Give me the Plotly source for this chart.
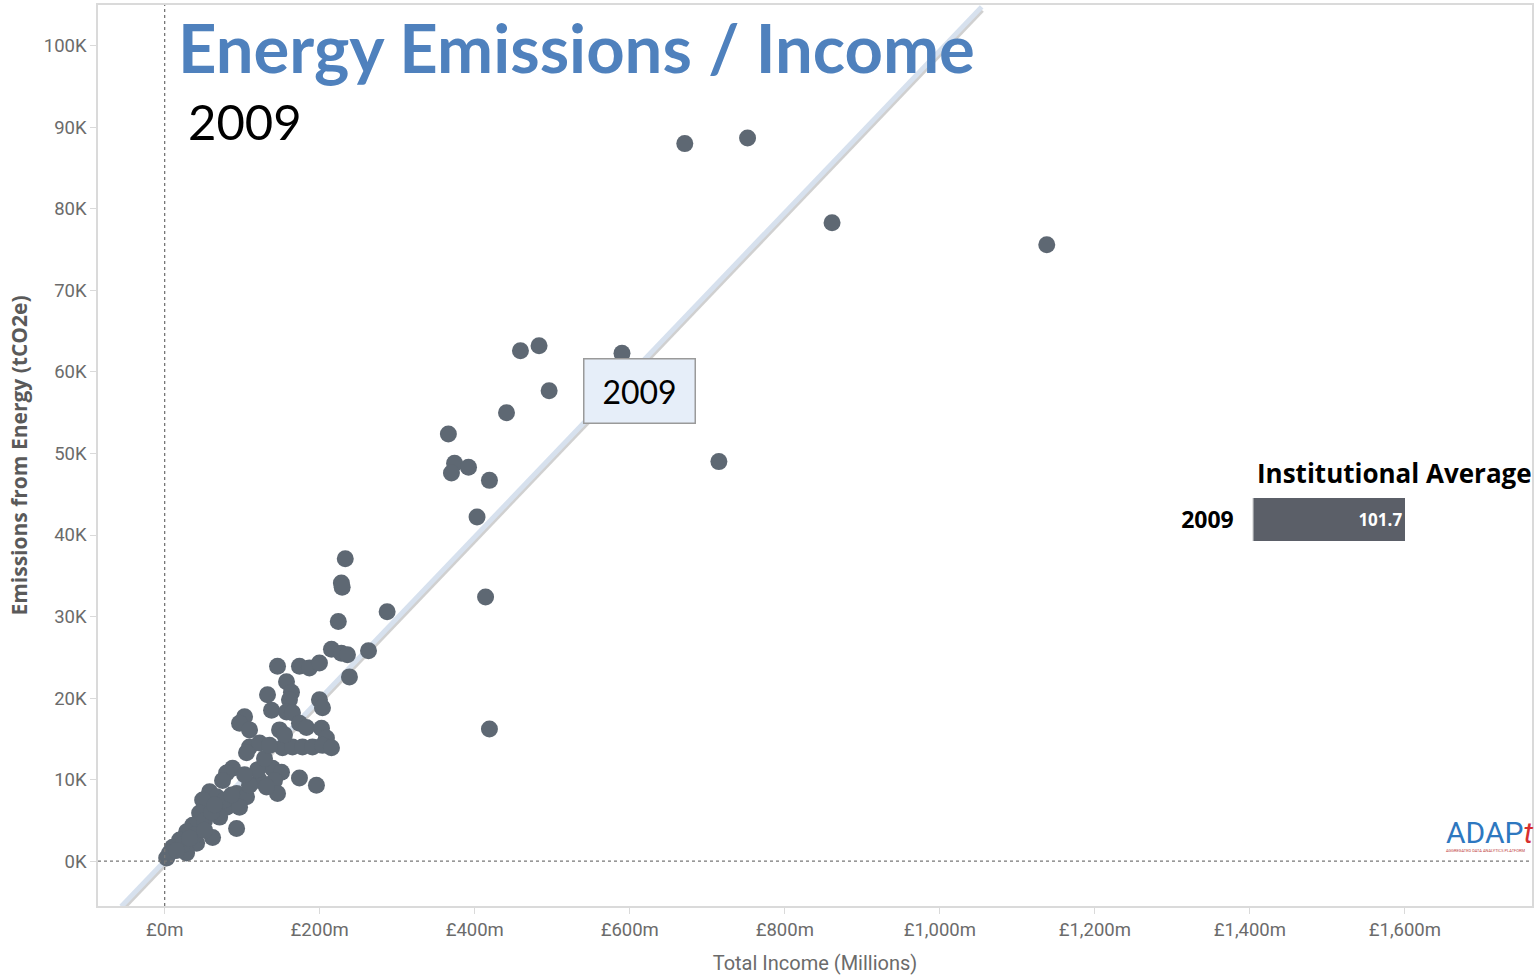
import plotly.graph_objects as go

# Total income (£ millions) and energy emissions (thousand tCO2e) per institution, 2009
income_m = [
    145.6, 173.9, 186.8, 199.7, 215.2, 228.0, 235.8, 238.4, 157.2, 163.6,
    132.7, 161.0, 137.9, 157.2, 164.9, 199.7, 203.6, 103.1, 96.6, 109.5,
    148.2, 173.9, 182.9, 202.3, 208.7, 109.5, 122.4, 105.6, 152.0, 164.9,
    177.8, 190.7, 203.6, 215.2, 87.6, 79.9, 74.7, 139.1, 150.7, 141.7,
    145.6, 173.9, 195.8, 122.4, 131.4, 58.0, 67.0, 49.0, 92.8, 105.6,
    79.9, 96.6, 45.1, 70.9, 92.8, 61.8, 36.1, 28.3, 19.3, 10.3,
    6.4, 2.6, 41.2, 28.3, 51.5, 60.6, 77.3, 86.3, 109.5, 119.8,
    128.8, 38.7, 51.5, 23.2, 15.5, 32.2, 64.4, 103.1, 135.3, 154.6,
    671.0, 752.0, 861.0, 1138.0, 715.0, 590.0, 483.0, 459.0, 496.0, 441.0,
    366.0, 374.0, 370.0, 392.0, 419.0, 403.0, 414.0, 419.0, 287.0, 233.0,
    228.0, 229.0, 224.0, 263.0,
]
emissions_k = [
    23.9, 23.9, 23.7, 24.3, 26.0, 25.5, 25.3, 22.6, 22.0, 20.7,
    20.4, 19.8, 18.5, 18.3, 18.2, 19.8, 18.8, 17.7, 16.9, 16.1,
    16.1, 16.9, 16.4, 16.3, 15.1, 14.0, 14.5, 13.3, 13.9, 14.0,
    14.0, 14.0, 14.2, 13.9, 11.4, 10.8, 9.9, 11.4, 10.9, 9.9,
    8.3, 10.2, 9.3, 9.9, 9.1, 8.5, 7.9, 7.5, 8.3, 7.9,
    6.6, 6.6, 5.9, 5.4, 4.0, 2.9, 4.4, 3.6, 2.6, 1.7,
    1.0, 0.4, 2.2, 1.0, 5.0, 6.0, 7.5, 8.1, 9.3, 11.2,
    12.6, 3.2, 3.8, 2.0, 1.3, 2.8, 6.9, 10.6, 14.2, 15.5,
    88.0, 88.7, 78.3, 75.6, 49.0, 62.3, 63.2, 62.6, 57.7, 55.0,
    52.4, 48.8, 47.6, 48.3, 46.7, 42.2, 32.4, 16.2, 30.6, 37.1,
    34.1, 33.6, 29.4, 25.8,
]

# Linear trend (thousand tCO2e per £m) and its drawn extent
trend_slope = 0.0994
trend_x = [-56, 1054]
trend_y = [trend_slope * v for v in trend_x]

# Institutional average (tCO2e per £m)
avg_year = ["2009"]
avg_value = [101.7]

x_ticks = [0, 200, 400, 600, 800, 1000, 1200, 1400, 1600]
y_ticks = [0, 10, 20, 30, 40, 50, 60, 70, 80, 90, 100]

TICK_FONT = dict(family="Roboto, Lato, sans-serif", size=18.5, color="#6b6b6b")
DOT = "#5e6873"

fig = go.Figure()

# soft shadow under the trend line
fig.add_trace(go.Scatter(
    x=trend_x, y=[v - 0.35 for v in trend_y], mode="lines",
    line=dict(color="rgba(120,120,120,0.35)", width=6),
    hoverinfo="skip", showlegend=False,
))
fig.add_trace(go.Scatter(
    x=trend_x, y=trend_y, mode="lines",
    line=dict(color="#d7e1ee", width=5),
    hoverinfo="skip", showlegend=False,
))
fig.add_trace(go.Scatter(
    x=income_m, y=emissions_k, mode="markers",
    marker=dict(size=17, color=DOT, line=dict(width=0)),
    showlegend=False,
))

# institutional average bar
fig.add_trace(go.Bar(
    x=avg_value, y=avg_year, orientation="h",
    xaxis="x2", yaxis="y2", width=1.0,
    marker=dict(color="#5b5f68", line=dict(width=0)),
    text=[f"<b>{v}</b>" for v in avg_value], textposition="inside",
    insidetextanchor="end",
    textfont=dict(family="Open Sans, sans-serif", size=17, color="white"),
    showlegend=False,
))

fig.update_layout(
    width=1534, height=975,
    margin=dict(l=98, r=0, t=5, b=69),
    paper_bgcolor="white", plot_bgcolor="white",
    xaxis=dict(
        range=[-86, 1764], tickvals=x_ticks,
        ticktext=[f"£{v:,}m" for v in x_ticks],
        showgrid=False, zeroline=False,
        showline=True, linecolor="#dadada", linewidth=1.5, mirror=True,
        ticks="outside", ticklen=6, tickcolor="#dadada",
        tickfont=TICK_FONT,
        title=dict(text="Total Income (Millions)", standoff=16,
                   font=dict(family="Roboto, Lato, sans-serif", size=20, color="#6b6b6b")),
    ),
    yaxis=dict(
        range=[-5.5, 105], tickvals=y_ticks,
        ticktext=[f"{v}K" for v in y_ticks],
        showgrid=False, zeroline=False,
        showline=True, linecolor="#dadada", linewidth=1.5, mirror=True,
        ticks="outside", ticklen=6, tickcolor="#dadada",
        tickfont=TICK_FONT,
        title=dict(text="<b>Emissions from Energy (tCO2e)</b>", standoff=10,
                   font=dict(family="Open Sans, sans-serif", size=21, color="#5a5a5a")),
    ),
    xaxis2=dict(
        domain=[(1255 - 98) / 1436, 1.0], range=[0, 186.7], anchor="y2",
        visible=False, fixedrange=True,
    ),
    yaxis2=dict(
        domain=[0.405, 0.453], anchor="x2",
        showgrid=False, zeroline=False, showline=True, linecolor="#e3e3e3",
        ticks="", ticktext=["<b>2009</b>"], tickvals=avg_year,
        ticklabelstandoff=14,
        tickfont=dict(family="Open Sans, sans-serif", size=23, color="black"),
    ),
    bargap=0,
)

# dotted zero reference lines
fig.add_shape(type="line", xref="x", yref="paper", x0=0, x1=0, y0=0, y1=1,
              line=dict(color="#777777", width=1.3, dash="dot"))
fig.add_shape(type="line", xref="paper", yref="y", x0=0, x1=1, y0=0, y1=0,
              line=dict(color="#777777", width=1.3, dash="dot"))

fig.add_annotation(
    text="<b>Energy Emissions / Income</b>", xref="paper", yref="paper",
    x=(176 - 98) / 1436, y=(906 - 47) / 901, xanchor="left", yanchor="middle",
    showarrow=False,
    font=dict(family="Lato, sans-serif", size=67, color="#4f81bd"),
)
fig.add_annotation(
    text="2009", xref="paper", yref="paper",
    x=(186 - 98) / 1436, y=(906 - 121) / 901, xanchor="left", yanchor="middle",
    showarrow=False,
    font=dict(family="Lato, sans-serif", size=49, color="black"),
)
fig.add_annotation(
    text="2009", xref="x", yref="y", x=613, y=57.7,
    showarrow=False, bgcolor="#e6eef9", bordercolor="#9a9a9a", borderwidth=1.5,
    borderpad=12, width=86,
    font=dict(family="Lato, sans-serif", size=32, color="black"),
)
fig.add_annotation(
    text="<b>Institutional Average</b>", xref="paper", yref="paper",
    x=(1257 - 98) / 1436, y=(906 - 473) / 901, xanchor="left", yanchor="middle",
    showarrow=False,
    font=dict(family="Open Sans, sans-serif", size=26, color="black"),
)
fig.add_annotation(
    text="<span style='color:#2e78c0'>ADAP</span><i><span style='color:#d63030'>t</span></i>",
    xref="paper", yref="paper",
    x=(1446 - 98) / 1436, y=(906 - 832) / 901, xanchor="left", yanchor="middle",
    showarrow=False,
    font=dict(family="Roboto, sans-serif", size=30),
)
fig.add_annotation(
    text="AGGREGATED DATA ANALYTICS PLATFORM",
    xref="paper", yref="paper",
    x=(1446 - 98) / 1436, y=(906 - 850) / 901, xanchor="left", yanchor="middle",
    showarrow=False,
    font=dict(family="Roboto, sans-serif", size=4, color="#c04040"),
)

fig.write_html("out.html")
